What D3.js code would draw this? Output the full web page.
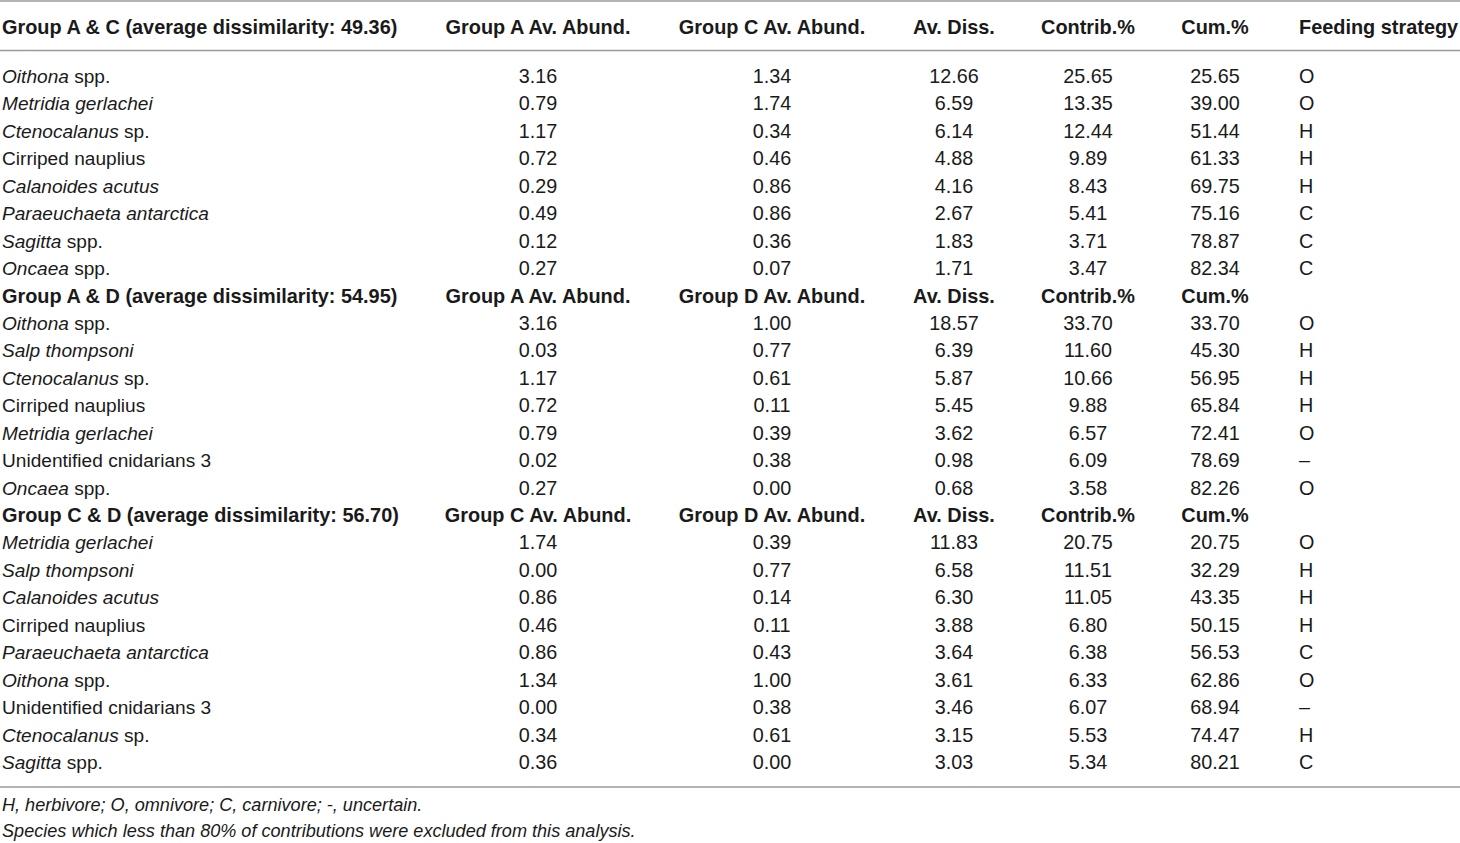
<!DOCTYPE html>
<html>
<head>
<meta charset="utf-8">
<script src="https://cdn.jsdelivr.net/npm/d3@7"></script>
<style>
  body { margin: 0; background: #fff; }
  text { font-family: "Liberation Sans", Arial, sans-serif; fill: #1a1a1a; }
</style>
</head>
<body>
<div id="table"></div>
<script>
const comparisons = ["Group A & C (average dissimilarity: 49.36)", "Group A & D (average dissimilarity: 54.95)", "Group C & D (average dissimilarity: 56.70)"];
const firstGroup = ["A", "A", "C"];
const secondGroup = ["C", "D", "D"];
const statHeaders = ["Av. Diss.", "Contrib.%", "Cum.%"];
const feedHeader = "Feeding strategy";

// group A & C
const acSpecies = ["_Oithona_ spp.", "_Metridia gerlachei_", "_Ctenocalanus_ sp.", "Cirriped nauplius", "_Calanoides acutus_", "_Paraeuchaeta antarctica_", "_Sagitta_ spp.", "_Oncaea_ spp."];
const acAbund1 = [3.16, 0.79, 1.17, 0.72, 0.29, 0.49, 0.12, 0.27];
const acAbund2 = [1.34, 1.74, 0.34, 0.46, 0.86, 0.86, 0.36, 0.07];
const acDiss = [12.66, 6.59, 6.14, 4.88, 4.16, 2.67, 1.83, 1.71];
const acContrib = [25.65, 13.35, 12.44, 9.89, 8.43, 5.41, 3.71, 3.47];
const acCum = [25.65, 39.00, 51.44, 61.33, 69.75, 75.16, 78.87, 82.34];
const acFeed = ["O", "O", "H", "H", "H", "C", "C", "C"];

// group A & D
const adSpecies = ["_Oithona_ spp.", "_Salp thompsoni_", "_Ctenocalanus_ sp.", "Cirriped nauplius", "_Metridia gerlachei_", "Unidentified cnidarians 3", "_Oncaea_ spp."];
const adAbund1 = [3.16, 0.03, 1.17, 0.72, 0.79, 0.02, 0.27];
const adAbund2 = [1.00, 0.77, 0.61, 0.11, 0.39, 0.38, 0.00];
const adDiss = [18.57, 6.39, 5.87, 5.45, 3.62, 0.98, 0.68];
const adContrib = [33.70, 11.60, 10.66, 9.88, 6.57, 6.09, 3.58];
const adCum = [33.70, 45.30, 56.95, 65.84, 72.41, 78.69, 82.26];
const adFeed = ["O", "H", "H", "H", "O", "\u2013", "O"];

// group C & D
const cdSpecies = ["_Metridia gerlachei_", "_Salp thompsoni_", "_Calanoides acutus_", "Cirriped nauplius", "_Paraeuchaeta antarctica_", "_Oithona_ spp.", "Unidentified cnidarians 3", "_Ctenocalanus_ sp.", "_Sagitta_ spp."];
const cdAbund1 = [1.74, 0.00, 0.86, 0.46, 0.86, 1.34, 0.00, 0.34, 0.36];
const cdAbund2 = [0.39, 0.77, 0.14, 0.11, 0.43, 1.00, 0.38, 0.61, 0.00];
const cdDiss = [11.83, 6.58, 6.30, 3.88, 3.64, 3.61, 3.46, 3.15, 3.03];
const cdContrib = [20.75, 11.51, 11.05, 6.80, 6.38, 6.33, 6.07, 5.53, 5.34];
const cdCum = [20.75, 32.29, 43.35, 50.15, 56.53, 62.86, 68.94, 74.47, 80.21];
const cdFeed = ["O", "H", "H", "H", "C", "O", "\u2013", "H", "C"];

const footnotes = ["H, herbivore; O, omnivore; C, carnivore; -, uncertain.", "Species which less than 80% of contributions were excluded from this analysis."];

var sections = [
  [acSpecies, acAbund1, acAbund2, acDiss, acContrib, acCum, acFeed],
  [adSpecies, adAbund1, adAbund2, adDiss, adContrib, adCum, adFeed],
  [cdSpecies, cdAbund1, cdAbund2, cdDiss, cdContrib, cdCum, cdFeed]
];

var width = 1460, height = 843;
var fmt = d3.format(".2f");
var keys = ["name", "abund1", "abund2", "diss", "contrib", "cum", "feed"];

var colX = d3.scaleOrdinal().domain(keys).range([2, 538, 772, 954, 1088, 1215, 1299]);
var colAnchor = d3.scaleOrdinal().domain(keys).range(["start", "middle", "middle", "middle", "middle", "middle", "start"]);

// flatten into rows; the first section header sits above the rule
var rows = [];
sections.forEach(function (s, si) {
  var head = [comparisons[si], "Group " + firstGroup[si] + " Av. Abund.", "Group " + secondGroup[si] + " Av. Abund."].concat(statHeaders);
  if (si === 0) head.push(feedHeader); else head.push("");
  rows.push({ head: true, top: si === 0, cells: head });
  s[0].forEach(function (name, i) {
    rows.push({ head: false, cells: [name, fmt(s[1][i]), fmt(s[2][i]), fmt(s[3][i]), fmt(s[4][i]), fmt(s[5][i]), s[6][i]] });
  });
});
var bodyRows = rows.filter(function (r) { return !r.top; });
bodyRows.forEach(function (r, i) { r.idx = i; });

var y = d3.scaleLinear().domain([0, bodyRows.length - 1]).range([76, 762]);
var headerY = 27;

var svg = d3.select("#table").append("svg")
  .attr("width", width)
  .attr("height", height);

// rules
svg.selectAll("line.rule")
  .data([1, 50.5, 787])
  .enter()
  .append("line")
  .classed("rule", true)
  .attr("x1", 0).attr("x2", width)
  .attr("y1", function (d) { return d; })
  .attr("y2", function (d) { return d; })
  .attr("stroke", "#9a9a9a")
  .attr("stroke-width", 1.6);

var rowG = svg.selectAll("g.row")
  .data(rows)
  .enter()
  .append("g")
  .classed("row", true)
  .attr("transform", function (d) {
    return "translate(0," + ((d.top ? headerY : y(d.idx)) + 7) + ")";
  });

rowG.each(function (r) {
  var g = d3.select(this);
  r.cells.forEach(function (c, ci) {
    if (c === "") return;
    var t = g.append("text")
      .attr("x", colX(keys[ci]))
      .attr("text-anchor", colAnchor(keys[ci]))
      .style("font-size", r.head ? "19.9px" : (ci === 0 ? "19.1px" : "19.8px"))
      .style("font-weight", r.head ? "bold" : "normal");
    if (ci === 0 && !r.head) {
      // _text_ marks the italic part of a species name
      c.split("_").forEach(function (part, pi) {
        if (part === "") return;
        t.append("tspan").text(part).style("font-style", pi % 2 ? "italic" : "normal");
      });
    } else {
      t.text(c);
    }
  });
});

svg.selectAll("text.note")
  .data(footnotes)
  .enter()
  .append("text")
  .classed("note", true)
  .attr("x", 2)
  .attr("y", function (d, i) { return 811 + i * 26; })
  .style("font-size", "18.1px")
  .style("font-style", "italic")
  .text(function (d) { return d; });
</script>
</body>
</html>
